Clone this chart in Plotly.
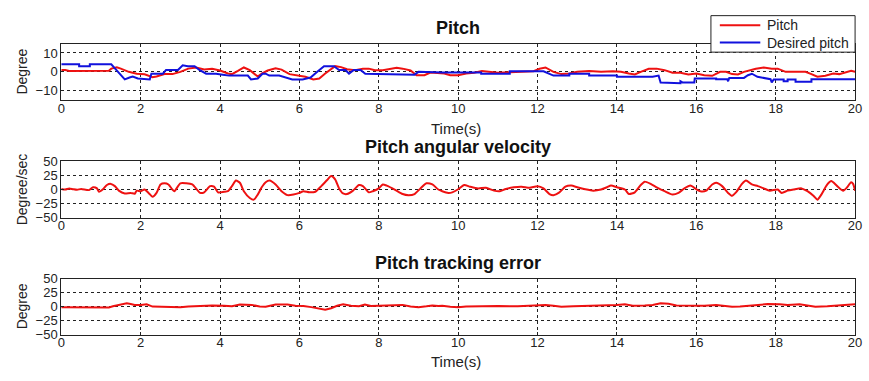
import plotly.graph_objects as go

# ---- Pitch (deg) ----
pitch_t = [0, 0.1, 0.2, 0.5, 0.8, 1.0, 1.2, 1.26, 1.4, 1.5, 1.7, 1.9, 2.1, 2.3, 2.4, 2.6, 2.8,
           3.0, 3.2, 3.4, 3.6, 3.8, 4.0, 4.2, 4.3, 4.45, 4.6, 4.75, 4.95, 5.05, 5.2, 5.4, 5.55,
           5.75, 6.0, 6.15, 6.35, 6.5, 6.65, 6.8, 6.9, 7.05, 7.2, 7.4, 7.6, 7.75, 7.9, 8.1, 8.3,
           8.45, 8.6, 8.8, 8.95, 9.15, 9.3, 9.5, 9.65, 9.8, 10.0, 10.2, 10.4, 10.6, 10.8, 11.0,
           11.3, 11.6, 11.9, 12.05, 12.2, 12.4, 12.6, 12.8, 13.0, 13.3, 13.6, 13.9, 14.1, 14.3,
           14.45, 14.6, 14.8, 15.0, 15.2, 15.4, 15.6, 15.8, 16.0, 16.2, 16.4, 16.6, 16.75, 16.9,
           17.05, 17.2, 17.35, 17.5, 17.7, 17.9, 18.05, 18.25, 18.5, 18.75, 18.9, 19.05, 19.25,
           19.45, 19.6, 19.75, 19.9, 20.0]
pitch_deg = [1.0, 1.0, 0.5, 0.6, 0.4, 0.5, 0.6, 1.7, 2.4, 1.7, 0.0, -1.0, -1.3, -2.8, -2.5, -1.2, -1.2,
             0.0, 1.7, 2.3, 1.2, 1.6, 0.7, -0.9, -1.2, 0.5, 2.3, 0.9, -2.5, -0.9, 0.7, 1.9, 1.2,
             -1.2, -2.1, -2.6, -4.0, -3.5, -0.9, 1.7, 3.0, 2.5, 1.4, 0.9, 1.6, 1.7, 0.9, 0.9, 1.4,
             2.1, 1.7, 0.7, -1.8, -1.8, -0.4, -0.5, -0.9, -1.8, -1.8, -0.9, -0.5, 0.5, 0.0, -0.5,
             -0.2, 0.0, 0.3, 1.6, 2.3, 0.0, -1.2, -0.9, 0.0, 0.4, 0.0, 0.3, 0.0, -0.9,
             -1.4, 0.0, 1.6, 1.7, 0.9, -0.5, -0.5, -1.4, -0.9, -1.8, -2.1, 0.0, 0.0, -1.2,
             -1.4, 0.0, 0.9, 1.6, 2.3, 1.7, 1.7, 0.0, 0.0, 0.0, -1.2, -2.6, -2.1,
             -0.9, -1.2, -0.5, 0.5, 0.0]

# ---- Desired pitch (deg), piecewise-constant reference ----
desired_t = [0, 0.45, 0.45, 0.72, 0.72, 1.26, 1.43, 1.6, 1.72, 1.8, 1.93, 2.23, 2.27, 2.56, 2.64,
             2.94, 3.06, 3.19, 3.36, 3.48, 3.65, 3.9, 4.07, 4.23, 4.7, 4.78, 4.95, 5.07, 5.15,
             5.24, 5.49, 5.66, 5.82, 6.08, 6.28, 6.45, 6.62, 6.87, 7.0, 7.16, 7.25, 7.37, 7.54,
             7.66, 8.83, 8.9, 9.0, 9.6, 10.58, 10.58, 11.3, 11.3, 12.15, 12.4, 12.8, 12.8, 13.3,
             13.3, 14.0, 14.0, 14.9, 15.05, 15.1, 15.6, 15.6, 15.65, 15.95, 15.96, 16.5, 16.5,
             16.78, 16.8, 16.83, 17.2, 17.3, 17.4, 17.54, 17.87, 17.9, 17.95, 18.2, 18.2, 18.3,
             18.3, 18.5, 18.5, 18.9, 18.9, 20.0]
desired_deg = [4, 4, 3, 3, 4, 4, 0, -4, -3, -2.5, -3.5, -4, -1, -1, 1,
               1, 3.5, 3, 3, 1, -1, -1, -1.5, -2, -2, -4, -3.5, -1, -1,
               -2, -2, -3, -4, -4, -3, 0, 3, 3, 1, 1, -1, 1, 1,
               -1, -1.5, -1.5, 0, -0.3, -0.3, -1, -1, 0.3, 0.3, -2, -2, -1, -1,
               -2, -2, -2.6, -2.6, -2, -5.6, -6, -5, -5.6, -5.6, -3.5, -3.5, -3.9,
               -3.9, -5, -3.2, -3.2, -1.8, -1, -2.6, -3.9, -5.6, -4, -4, -5, -5,
               -4, -4, -5.3, -5.3, -3.9, -3.9]

# ---- Pitch angular velocity (deg/s) ----
rate_t = [0, 0.1, 0.2, 0.3, 0.4, 0.5, 0.7, 0.8, 0.9, 0.95, 1.05, 1.15, 1.25, 1.35, 1.45, 1.6,
          1.75, 1.85, 1.9, 2.0, 2.1, 2.2, 2.3, 2.4, 2.5, 2.6, 2.7, 2.8, 2.85, 3.0, 3.15, 3.3,
          3.5, 3.6, 3.75, 3.85, 3.95, 4.1, 4.2, 4.3, 4.4, 4.5, 4.6, 4.75, 4.85, 4.95, 5.05,
          5.15, 5.25, 5.4, 5.55, 5.7, 5.85, 6.0, 6.1, 6.25, 6.4, 6.55, 6.7, 6.8, 6.9, 7.0,
          7.1, 7.2, 7.35, 7.5, 7.6, 7.75, 7.85, 8.0, 8.1, 8.2, 8.4, 8.6, 8.75, 8.9, 9.05,
          9.2, 9.35, 9.5, 9.6, 9.75, 9.85, 10.0, 10.15, 10.3, 10.5, 10.7, 10.9, 11.05, 11.2,
          11.4, 11.6, 11.8, 12.0, 12.15, 12.3, 12.4, 12.55, 12.7, 12.85, 13.0, 13.2, 13.4,
          13.6, 13.75, 13.85, 14.0, 14.2, 14.3, 14.45, 14.6, 14.7, 14.85, 15.0, 15.2, 15.4,
          15.55, 15.7, 15.85, 16.0, 16.1, 16.25, 16.4, 16.5, 16.65, 16.8, 16.9, 17.0, 17.15,
          17.25, 17.4, 17.55, 17.7, 17.85, 18.05, 18.15, 18.3, 18.45, 18.65, 18.8, 18.95,
          19.05, 19.15, 19.3, 19.4, 19.55, 19.7, 19.8, 19.9, 19.95, 20.0]
rate_dps = [1, 0, 2, 0.5, -0.5, 1, -1, 4, 2, -4, 0.5, 8, 10, 6, -2, -7,
            -6, -7.5, -2, -3, 0, -6, -13, -6, 9, 11, 9, 0, -3, 11, 11, 9,
            -6, -5, 6, 5, -5, -4, -3, 6, 16, 12, -3, -15, -18, -9, 4,
            13, 16, 9, -3, -10, -9, -6, -3, -5, -4, 6, 17, 24, 18, 2,
            -7, -8, -2, 8, 6, -5, -3, 2, 9, 7, 0, -8, -10, -8, 2,
            11, 9, 0, -3, -6, -5, 0.5, 8, 5, 2, 3, -2, -3, 1,
            4, 5, 3, 6, 2, -8, -10, -5, 5, 7, 4, 0.5, -2,
            0, 4, 7, 4, 0, -8, -5, 8, 14, 10, 4, -3, -9,
            -6, 2, 7, 0.5, -3, -2, 9, 12, 6, -6, -11, -5, 10,
            16, 9, 6, 2, -2, 0, -6, -2, 0, 2, -3, -11,
            -18, -9, 9, 15, 6, -2, 4, 13, 10, -2]

# ---- Pitch tracking error (deg) ----
err_t = [0, 0.5, 1.2, 1.3, 1.5, 1.65, 1.75, 1.85, 2.0, 2.15, 2.3, 2.6, 3.0, 3.2, 3.5, 3.8,
         4.1, 4.3, 4.5, 4.8, 5.0, 5.15, 5.4, 5.7, 5.9, 6.1, 6.3, 6.55, 6.65, 6.8, 6.95, 7.1,
         7.3, 7.5, 7.65, 7.8, 8.0, 8.3, 8.6, 8.8, 9.0, 9.2, 9.35, 9.5, 9.6, 9.8, 10.0, 10.2,
         10.6, 10.7, 11.0, 11.5, 12.0, 12.2, 12.4, 12.6, 12.9, 13.2, 13.6, 14.0, 14.2, 14.4,
         14.7, 14.9, 15.1, 15.3, 15.5, 15.8, 16.0, 16.2, 16.5, 16.7, 16.9, 17.1, 17.3, 17.5,
         17.8, 18.1, 18.3, 18.6, 18.85, 19.0, 19.3, 19.6, 19.8, 20.0]
err_deg = [-1, -1, -1.5, 0.5, 4, 6, 4.5, 3, 3, 4, 0, -0.5, -1, 0, 1, 2,
           1.5, 0.5, 3.5, 3, 0, -0.5, 3.5, 3.5, 1.5, 1, -1, -4.5, -5.5, -3, 1.5, 4,
           1.5, 0.5, 3.5, 1, 1.5, 3.5, 3, 0, -1, 0.5, 2, 1, 1.5, -0.5, -1, 0,
           0.5, 1.5, 1, 0.5, 1.5, 3, 1.5, -0.5, 0.5, 1, 1, 3, 4, 1.5,
           2, 3, 6, 5, 2, 2, 1, 1.5, 3, 1, -0.5, 0, 1.5, 3.5,
           4.5, 4, 3, 4, 1.5, -0.5, 0.5, 1.5, 3, 4]

# Panel captions, legend entries and tick positions
panel_titles = ["Pitch", "Pitch angular velocity", "Pitch tracking error"]
y_titles = ["Degree", "Degree/sec", "Degree"]
legend_labels = ["Pitch", "Desired pitch"]
time_ticks = list(range(0, 21, 2))
pitch_ticks = [-10, 0, 10]
wide_ticks = [-50, -25, 0, 25, 50]

W, H = 869, 381
FONT = "Arial, 'Liberation Sans', Helvetica, sans-serif"
RED = "#ee1111"
BLUE = "#1111dd"
INK = "#222"


def px_x(p):
    return p / W


def px_y(p):
    return 1 - p / H


# plot boxes (top, bottom) in pixels from the top edge
boxes = [(38, 97), (160.7, 219.3), (282.7, 341)]
x_dom = [px_x(58), px_x(862)]

fig = go.Figure()
fig.add_trace(go.Scatter(x=pitch_t, y=pitch_deg, mode="lines", name=legend_labels[0],
                         line=dict(color=RED, width=2), xaxis="x", yaxis="y"))
fig.add_trace(go.Scatter(x=desired_t, y=desired_deg, mode="lines", name=legend_labels[1],
                         line=dict(color=BLUE, width=2), xaxis="x", yaxis="y"))
fig.add_trace(go.Scatter(x=rate_t, y=rate_dps, mode="lines",
                         line=dict(color=RED, width=2, shape="spline", smoothing=0.6),
                         xaxis="x2", yaxis="y2"))
fig.add_trace(go.Scatter(x=err_t, y=err_deg, mode="lines",
                         line=dict(color=RED, width=2), xaxis="x3", yaxis="y3"))

axis_common = dict(
    showline=True, mirror=True, linecolor=INK, linewidth=1,
    showgrid=True, gridcolor=INK, griddash="dot", gridwidth=1,
    zeroline=False, ticks="inside", ticklen=3, tickcolor=INK,
    tickfont=dict(family=FONT, size=13, color=INK),
    ticklabeloverflow="allow",
)

layout = dict(
    width=W, height=H,
    margin=dict(l=0, r=0, t=0, b=0),
    paper_bgcolor="white", plot_bgcolor="white",
    font=dict(family=FONT, color="#111"),
    showlegend=False,
)

y_ranges = [[-15, 15], [-50, 50], [-50, 50]]
y_tickvals = [pitch_ticks, wide_ticks, wide_ticks]
for i, (top, bot) in enumerate(boxes):
    sfx = "" if i == 0 else str(i + 1)
    layout["xaxis" + sfx] = dict(axis_common, domain=x_dom, range=[0, 20],
                                 tickvals=time_ticks, anchor="y" + sfx,
                                 ticklabelstandoff=-4)
    layout["yaxis" + sfx] = dict(axis_common, domain=[px_y(bot), px_y(top)],
                                 range=y_ranges[i], tickvals=y_tickvals[i],
                                 anchor="x" + sfx)

annotations = []
title_y = [22, 146, 267]
for i in range(3):
    annotations.append(dict(text="<b>%s</b>" % panel_titles[i], x=px_x(460), y=px_y(title_y[i]),
                            xref="paper", yref="paper", showarrow=False,
                            xanchor="center", yanchor="middle",
                            font=dict(family=FONT, size=18, color="#111")))
    top, bot = boxes[i]
    annotations.append(dict(text=y_titles[i], x=px_x(18), y=px_y((top + bot) / 2),
                            xref="paper", yref="paper", showarrow=False, textangle=-90,
                            xanchor="center", yanchor="middle",
                            font=dict(family=FONT, size=14, color=INK)))
for yy in (126, 369):
    annotations.append(dict(text="Time(s)", x=px_x(458), y=px_y(yy), xref="paper", yref="paper",
                            showarrow=False, xanchor="center", yanchor="middle",
                            font=dict(family=FONT, size=15, color=INK)))

# Legend box for the top panel, drawn over the plot area
shapes = [dict(type="rect", xref="paper", yref="paper", layer="above",
               x0=px_x(716), x1=px_x(862), y0=px_y(47), y1=px_y(9),
               fillcolor="white", line=dict(color=INK, width=1))]
for label, color, yy in zip(legend_labels, (RED, BLUE), (19, 37)):
    shapes.append(dict(type="line", xref="paper", yref="paper", layer="above",
                       x0=px_x(725), x1=px_x(766), y0=px_y(yy), y1=px_y(yy),
                       line=dict(color=color, width=2)))
    annotations.append(dict(text=label, x=px_x(771), y=px_y(yy), xref="paper", yref="paper",
                            showarrow=False, xanchor="left", yanchor="middle",
                            font=dict(family=FONT, size=14, color=INK)))

layout["annotations"] = annotations
layout["shapes"] = shapes

fig.update_layout(**layout)
fig.write_html("out.html")
